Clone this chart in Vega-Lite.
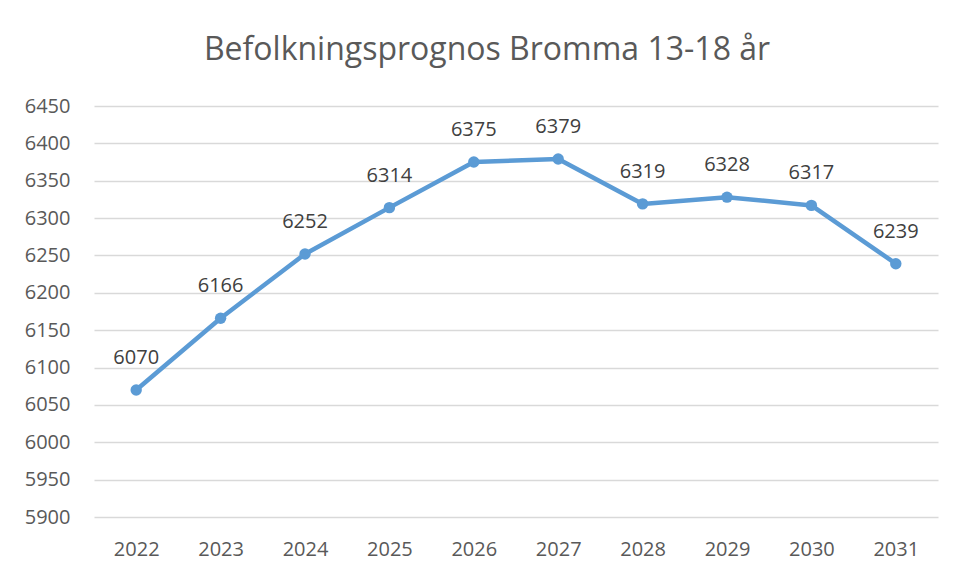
{
  "$schema": "https://vega.github.io/schema/vega-lite/v6.json",
  "width": 844,
  "height": 411,
  "autosize": {"type": "none"},
  "padding": {"left": 94, "top": 106, "right": 17, "bottom": 64},
  "background": "white",
  "title": {
    "text": "Befolkningsprognos Bromma 13-18 år",
    "font": "Open Sans",
    "fontSize": 32,
    "fontWeight": "normal",
    "color": "#595959",
    "anchor": "middle",
    "dx": -29,
    "offset": 29
  },
  "config": {
    "view": {"stroke": null},
    "axis": {
      "labelFont": "Open Sans",
      "labelFontSize": 20,
      "labelColor": "#595959",
      "domain": false,
      "ticks": false,
      "title": null
    }
  },
  "data": {
    "values": [
      {"year": "2022", "value": 6070},
      {"year": "2023", "value": 6166},
      {"year": "2024", "value": 6252},
      {"year": "2025", "value": 6314},
      {"year": "2026", "value": 6375},
      {"year": "2027", "value": 6379},
      {"year": "2028", "value": 6319},
      {"year": "2029", "value": 6328},
      {"year": "2030", "value": 6317},
      {"year": "2031", "value": 6239}
    ]
  },
  "encoding": {
    "x": {
      "field": "year",
      "type": "ordinal",
      "scale": {"type": "point", "padding": 0.5},
      "axis": {"labelAngle": 0, "grid": false, "labelPadding": 22}
    },
    "y": {
      "field": "value",
      "type": "quantitative",
      "scale": {"domain": [5900, 6450], "zero": false, "nice": false},
      "axis": {
        "values": [5900, 5950, 6000, 6050, 6100, 6150, 6200, 6250, 6300, 6350, 6400, 6450],
        "format": "d",
        "grid": true,
        "gridColor": "#D9D9D9",
        "gridWidth": 1.3,
        "labelPadding": 24
      }
    }
  },
  "layer": [
    {
      "mark": {"type": "line", "color": "#5B9BD5", "strokeWidth": 4.5, "strokeCap": "round", "strokeJoin": "round"}
    },
    {
      "mark": {"type": "point", "filled": true, "color": "#5B9BD5", "size": 130, "opacity": 1}
    },
    {
      "mark": {"type": "text", "font": "Open Sans", "fontSize": 20, "color": "#404040", "baseline": "alphabetic", "dy": -26},
      "encoding": {"text": {"field": "value", "type": "quantitative", "format": "d"}}
    }
  ]
}
